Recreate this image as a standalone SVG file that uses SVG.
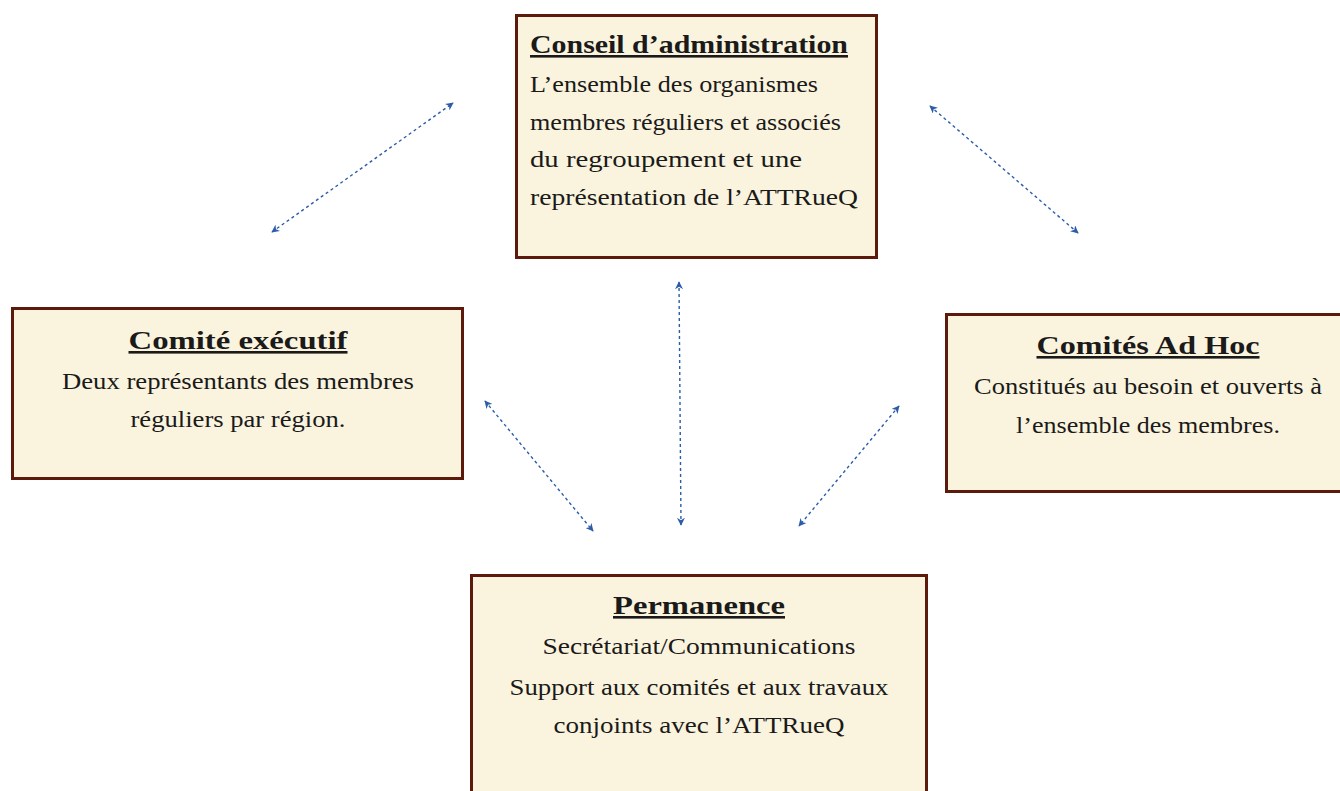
<svg xmlns="http://www.w3.org/2000/svg" width="1340" height="791" viewBox="0 0 1340 791">
<defs>
<style>
.box{fill:#faf4de;stroke:#5c1a0c;stroke-width:3}
.t{font-family:"Liberation Serif",serif;font-size:26px;font-weight:bold;text-decoration:underline;fill:#1a1a1a}
.b{font-family:"Liberation Serif",serif;font-size:24px;fill:#1a1a1a}
.c{text-anchor:middle}
.conn{stroke:#2a5caa;stroke-width:1.4;stroke-dasharray:3 3;fill:none;marker-start:url(#ah);marker-end:url(#ah)}
</style>
<marker id="ah" viewBox="0 0 10 10" refX="9" refY="5" markerWidth="8" markerHeight="8" markerUnits="userSpaceOnUse" orient="auto-start-reverse">
<path d="M0,0 L10,5 L0,10 L3,5 z" fill="#2a5caa"/>
</marker>
</defs>
<rect width="1340" height="791" fill="#ffffff"/>
<g id="connectors">
<line class="conn" x1="272" y1="232" x2="453" y2="103"/>
<line class="conn" x1="930" y1="106" x2="1078" y2="233"/>
<line class="conn" x1="485" y1="401" x2="593" y2="531"/>
<line class="conn" x1="679" y1="282" x2="681" y2="525"/>
<line class="conn" x1="899" y1="406" x2="799" y2="526"/>
</g>
<g id="conseil">
<rect class="box" x="516.5" y="15.5" width="360" height="242"/>
<text class="t" x="530" y="53" textLength="318" lengthAdjust="spacingAndGlyphs">Conseil d’administration</text>
<text class="b" x="530" y="92" textLength="288" lengthAdjust="spacingAndGlyphs">L’ensemble des organismes</text>
<text class="b" x="530" y="130" textLength="311" lengthAdjust="spacingAndGlyphs">membres réguliers et associés</text>
<text class="b" x="530" y="167" textLength="272" lengthAdjust="spacingAndGlyphs">du regroupement et une</text>
<text class="b" x="530" y="205" textLength="328" lengthAdjust="spacingAndGlyphs">représentation de l’ATTRueQ</text>
</g>
<g id="comite-executif">
<rect class="box" x="12.5" y="308.5" width="450" height="170"/>
<text class="t c" x="238" y="349" textLength="219" lengthAdjust="spacingAndGlyphs">Comité exécutif</text>
<text class="b c" x="238" y="389" textLength="352" lengthAdjust="spacingAndGlyphs">Deux représentants des membres</text>
<text class="b c" x="238" y="427" textLength="215" lengthAdjust="spacingAndGlyphs">réguliers par région.</text>
</g>
<g id="comites-ad-hoc">
<rect class="box" x="946.5" y="314.5" width="396" height="177"/>
<text class="t c" x="1148" y="354" textLength="223" lengthAdjust="spacingAndGlyphs">Comités Ad Hoc</text>
<text class="b c" x="1148" y="394" textLength="348" lengthAdjust="spacingAndGlyphs">Constitués au besoin et ouverts à</text>
<text class="b c" x="1148" y="433" textLength="264" lengthAdjust="spacingAndGlyphs">l’ensemble des membres.</text>
</g>
<g id="permanence">
<rect class="box" x="471.5" y="575.5" width="455" height="230"/>
<text class="t c" x="699" y="614" textLength="172" lengthAdjust="spacingAndGlyphs">Permanence</text>
<text class="b c" x="699" y="654" textLength="313" lengthAdjust="spacingAndGlyphs">Secrétariat/Communications</text>
<text class="b c" x="699" y="695" textLength="379" lengthAdjust="spacingAndGlyphs">Support aux comités et aux travaux</text>
<text class="b c" x="699" y="733" textLength="291" lengthAdjust="spacingAndGlyphs">conjoints avec l’ATTRueQ</text>
</g>
</svg>
